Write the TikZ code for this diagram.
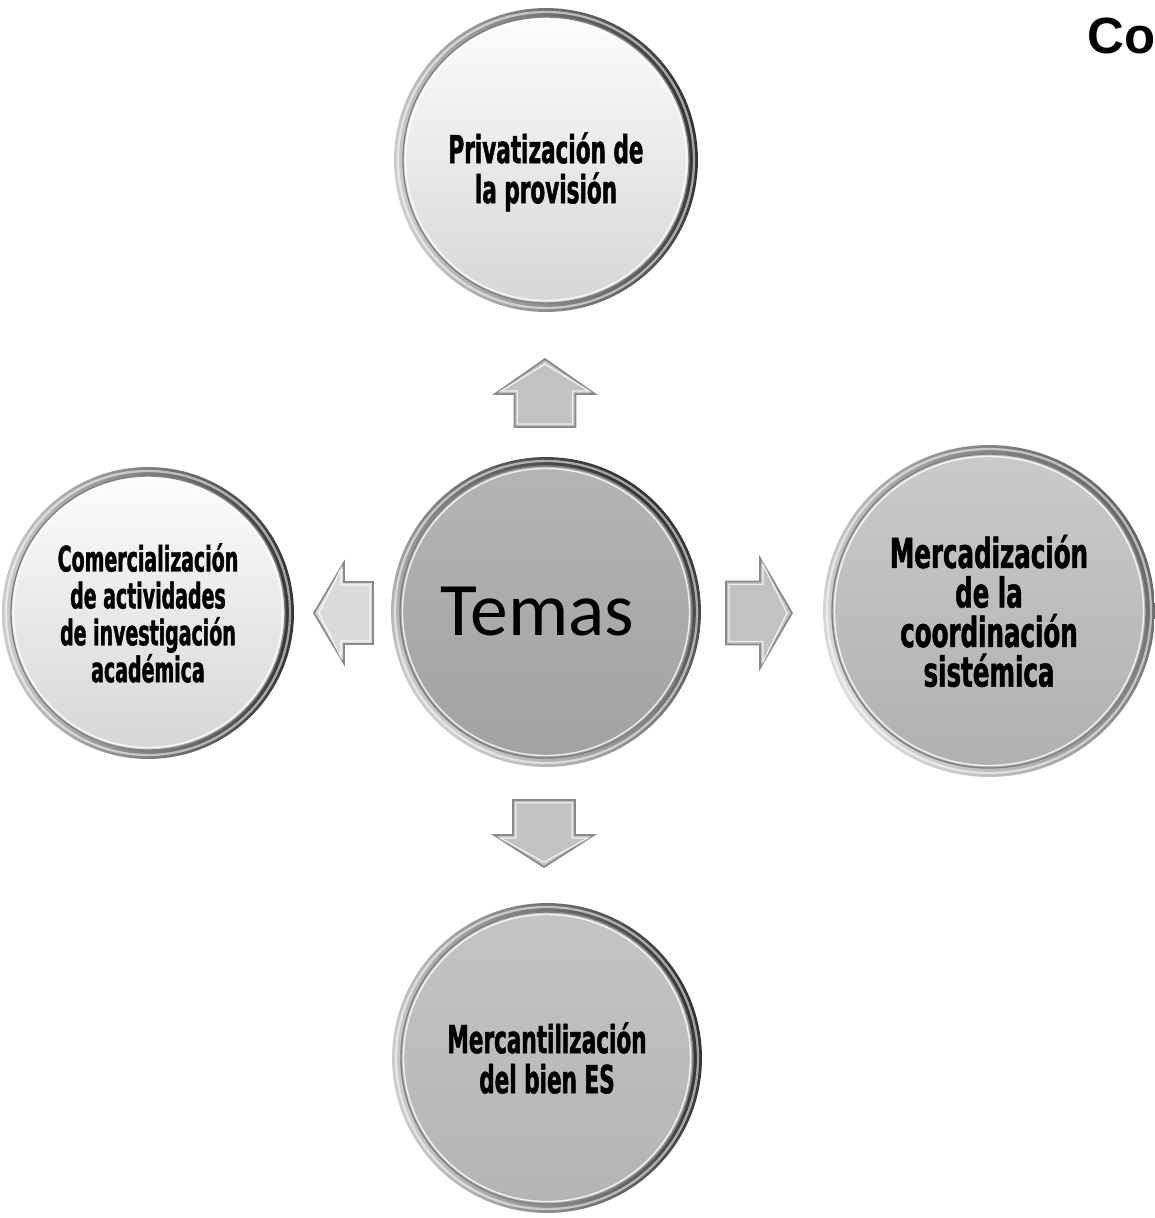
\documentclass[tikz,border=0pt]{standalone}
\usepackage{fontspec}
\newfontfamily\agency{DejaVu Sans Condensed}[FakeStretch=0.62, FakeBold=1.2]
\newfontfamily\agencyl{DejaVu Sans Condensed}[FakeStretch=0.6, FakeBold=1.2]
\newfontfamily\agencyr{DejaVu Sans Condensed}[FakeStretch=0.66, FakeBold=1.2]
\newfontfamily\carlito{Carlito}
\newfontfamily\arialb{Liberation Sans}
\definecolor{rimdark}{HTML}{333333}
\definecolor{rimlight}{HTML}{CCCCCC}
\definecolor{rimmid}{HTML}{666666}
\definecolor{rimpale}{HTML}{DCDCDC}
\definecolor{lightA}{HTML}{FCFCFC}
\definecolor{lightB}{HTML}{D6D6D6}
\definecolor{centA}{HTML}{B4B4B4}
\definecolor{centB}{HTML}{A2A2A2}
\definecolor{rightA}{HTML}{CACACA}
\definecolor{rightB}{HTML}{B0B0B0}
\definecolor{botA}{HTML}{C4C4C4}
\definecolor{botB}{HTML}{B4B4B4}
\definecolor{arrowgray}{HTML}{C2C2C2}
\definecolor{arrowpale}{HTML}{DADADA}
\definecolor{arrowedge}{HTML}{8A8A8A}
\tikzset{
  bezel/.style n args={6}{circle, inner sep=0pt, outer sep=0pt,
    minimum size=#1*0.04cm, align=center,
    path picture={
      \shade[top color=#4, bottom color=#5, shading angle=#6]
        (path picture bounding box.center) circle (#1);
      \draw[white, opacity=.55, line width=1.3pt]
        (path picture bounding box.center) circle (#1-4);
      \shade[top color=#2, bottom color=#3]
        (path picture bounding box.center) circle (#1-9);
      \draw[black!50, line width=.8pt]
        (path picture bounding box.center) circle (#1-9);
      \draw[white, opacity=.8, line width=.8pt]
        (path picture bounding box.center) circle (#1-11.5);
    }},
  circletext/.style={font=\agency\bfseries\fontsize{22}{22.8}\selectfont},
  lefttext/.style={font=\agencyl\bfseries\fontsize{20}{21}\selectfont},
  righttext/.style={font=\agencyr\bfseries\fontsize{23.5}{22.5}\selectfont},
  pics/barrow/.style n args={5}{code={
    \path[fill=#5, draw=arrowedge, line width=1pt, line join=miter]
      (0,-#3) -- (#1-#2,-#3) -- (#1-#2,-#4) -- (#1,0) -- (#1-#2,#4)
      -- (#1-#2,#3) -- (0,#3) -- cycle;
    \draw[white, opacity=.75, line width=.8pt, line join=miter]
      (3,-#3+3) -- (#1-#2+3,-#3+3) -- (#1-#2+3,-#4+6) -- (#1-5,0)
      -- (#1-#2+3,#4-6) -- (#1-#2+3,#3-3) -- (3,#3-3) -- cycle;
  }}
}
\begin{document}
\begin{tikzpicture}[x=0.02cm, y=-0.02cm]
\useasboundingbox (0,0) rectangle (1154,1218);

% block arrows
\pic[rotate=90]  (upA)    at (545,427) {barrow={68}{35}{30.5}{50}{arrowgray}};
\pic[rotate=-90] (downA)  at (544,800) {barrow={67}{32}{31}{50}{arrowgray}};
\pic[rotate=180] (leftA)  at (373,613) {barrow={59}{30}{31}{50.5}{arrowpale}};
\pic              (rightA) at (726,613) {barrow={66}{32}{31.5}{55}{arrowgray}};

% circles
\node[bezel={155}{centA}{centB}{rimdark}{rimlight}{-45},
      font=\carlito\fontsize{43}{46}\selectfont] (temas) at (546,612) {Temas\hspace*{10pt}};
\node[bezel={152}{lightA}{lightB}{rimdark}{rimlight}{-80}, circletext]
      (priv) at (546,160) {\rule{0pt}{31pt}Privatización de\\la provisión};
\node[bezel={146}{lightA}{lightB}{rimdark}{rimlight}{-90}, lefttext]
      (comer) at (148,613) {Comercialización\\de actividades\\de investigación\\académica};
\node[bezel={166}{rightA}{rightB}{rimmid}{rimpale}{-60}, righttext]
      (merc) at (989,611) {Mercadización\\de la\\coordinación\\sistémica};
\node[bezel={155}{botA}{botB}{rimdark}{rimlight}{-80}, circletext]
      (mercant) at (547,1058) {Mercantilización\\del bien ES};

% title fragment
\node[anchor=base west, inner sep=0pt, font=\arialb\bfseries\fontsize{29}{32}\selectfont]
      (co) at (1087,53) {Co};
\end{tikzpicture}
\end{document}
